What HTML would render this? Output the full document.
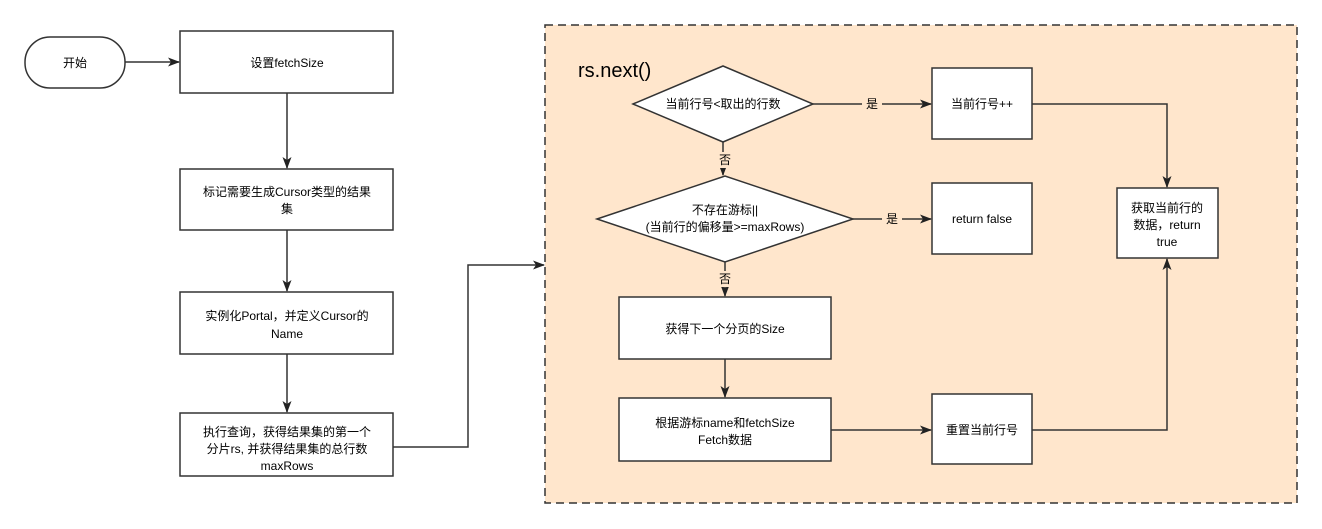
<!DOCTYPE html>
<html><head><meta charset="utf-8"><style>
body{margin:0;background:#fff;}
svg{display:block;}
text{font-family:"Liberation Sans","Noto Sans CJK SC",sans-serif;font-size:12px;fill:#000;}
</style></head><body>
<svg width="1322" height="529" viewBox="0 0 1322 529" xmlns="http://www.w3.org/2000/svg">
<defs><marker id="a" markerWidth="12" markerHeight="12" refX="11" refY="6" orient="auto" markerUnits="userSpaceOnUse"><path d="M0,1.5 L12,6 L0,10.5 L3,6 Z" fill="#222"/></marker></defs>
<rect x="545" y="25" width="752" height="478" fill="#FFE6CC" stroke="#333" stroke-width="1.5" stroke-dasharray="8,5"/>
<text x="578" y="77" style="font-size:20px">rs.next()</text>
<g fill="#fff" stroke="#333" stroke-width="1.5">
<rect x="25" y="37" width="100" height="51" rx="25"/>
<rect x="180" y="31" width="213" height="62"/>
<rect x="180" y="169" width="213" height="61"/>
<rect x="180" y="292" width="213" height="62"/>
<rect x="180" y="413" width="213" height="63"/>
<polygon points="633,104 723,66 813,104 723,142"/>
<polygon points="597,219 725,176 853,219 725,262"/>
<rect x="932" y="68" width="100" height="71"/>
<rect x="932" y="183" width="100" height="71"/>
<rect x="619" y="297" width="212" height="62"/>
<rect x="619" y="398" width="212" height="63"/>
<rect x="932" y="394" width="100" height="70"/>
<rect x="1117" y="188" width="101" height="70"/>
</g>
<g fill="none" stroke="#333" stroke-width="1.5" marker-end="url(#a)">
<path d="M125,62 H179"/>
<path d="M287,93 V168"/>
<path d="M287,230 V291"/>
<path d="M287,354 V412"/>
<path d="M393,447 H468 V265 H544"/>
<path d="M813,104 H931"/>
<path d="M723,142 V175"/>
<path d="M853,219 H931"/>
<path d="M725,262 V296"/>
<path d="M725,359 V397"/>
<path d="M831,430 H931"/>
<path d="M1032,104 H1167 V187"/>
<path d="M1032,430 H1167 V259"/>
</g>
<g text-anchor="middle">
<rect x="862" y="96" width="20" height="16" fill="#FFE6CC"/><text x="872" y="108">是</text>
<rect x="882" y="211" width="20" height="16" fill="#FFE6CC"/><text x="892" y="223">是</text>
<rect x="716" y="152" width="18" height="16" fill="#FFE6CC"/><text x="725" y="164">否</text>
<rect x="716" y="271" width="18" height="16" fill="#FFE6CC"/><text x="725" y="283">否</text>
<text x="75" y="67">开始</text>
<text x="287" y="67">设置fetchSize</text>
<text x="287" y="196">标记需要生成Cursor类型的结果</text><text x="287" y="213">集</text>
<text x="287" y="320">实例化Portal，并定义Cursor的</text><text x="287" y="338">Name</text>
<text x="287" y="436">执行查询，获得结果集的第一个</text><text x="287" y="453">分片rs, 并获得结果集的总行数</text><text x="287" y="470">maxRows</text>
<text x="723" y="108">当前行号&lt;取出的行数</text>
<text x="725" y="214">不存在游标||</text><text x="725" y="231">(当前行的偏移量&gt;=maxRows)</text>
<text x="982" y="108">当前行号++</text>
<text x="982" y="223">return false</text>
<text x="725" y="333">获得下一个分页的Size</text>
<text x="725" y="427">根据游标name和fetchSize</text><text x="725" y="444">Fetch数据</text>
<text x="982" y="434">重置当前行号</text>
<text x="1167" y="212">获取当前行的</text><text x="1167" y="229">数据，return</text><text x="1167" y="246">true</text>
</g>
</svg>
</body></html>
